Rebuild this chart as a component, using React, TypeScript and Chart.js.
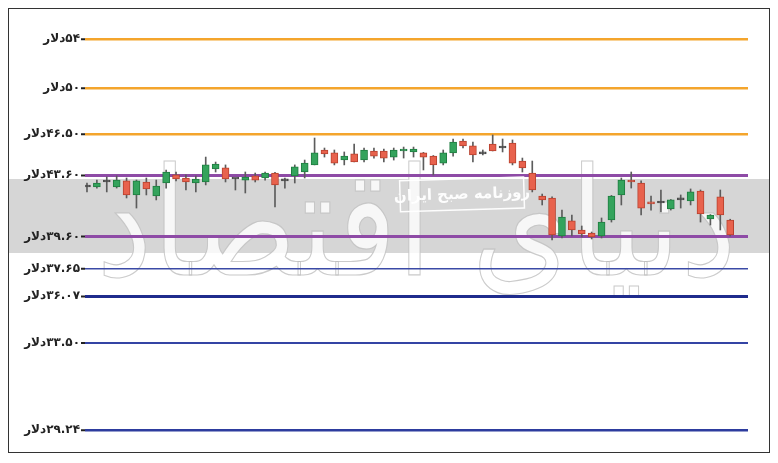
import React, { useEffect, useRef } from 'react';
import { Chart, registerables } from 'chart.js';

Chart.register(...registerables);

// Horizontal price levels (dollars) and their labels
const levels = [54, 50, 46.5, 43.6, 39.6, 37.65, 36.07, 33.5, 29.24];
const levelLabels = [
  '۵۴دلار',
  '۵۰دلار',
  '۴۶.۵۰دلار',
  '۴۳.۶۰دلار',
  '۳۹.۶۰دلار',
  '۳۷.۶۵دلار',
  '۳۶.۰۷دلار',
  '۳۳.۵۰دلار',
  '۲۹.۲۴دلار',
];
const levelColors = ['#f4a52c', '#f4a52c', '#f4a52c', '#8e4ba6', '#8e4ba6', '#3b4aa6', '#1f2b8c', '#3444a4', '#2d3c9e'];
const levelWidths = [2.5, 2.5, 2.5, 3, 3, 1.5, 3, 2, 2.5];

// Candles (daily OHLC)
const opens = [42.81, 42.81, 43.15, 42.81, 43.22, 42.28, 43.15, 42.21, 43.08, 43.63, 43.42, 43.08, 43.15, 44.04, 44.11, 43.35, 43.28, 43.56, 43.42, 43.76, 43.22, 43.56, 43.83, 44.32, 45.37, 45.16, 44.66, 45.09, 44.66, 45.3, 45.3, 44.87, 45.3, 45.23, 45.16, 44.94, 44.45, 45.16, 46.01, 45.66, 45.09, 45.8, 45.51, 45.87, 44.59, 43.76, 42.21, 42.08, 39.64, 40.59, 40.02, 39.83, 39.64, 40.65, 42.28, 43.28, 43.08, 41.82, 41.75, 41.36, 41.95, 41.88, 42.54, 40.72, 42.15, 40.65];
const closes = [42.81, 43.08, 43.15, 43.28, 42.28, 43.22, 42.68, 42.88, 43.83, 43.35, 43.15, 43.35, 44.32, 44.38, 43.35, 43.35, 43.49, 43.28, 43.76, 42.95, 43.22, 44.18, 44.45, 45.16, 45.09, 44.45, 44.94, 44.52, 45.37, 44.94, 44.8, 45.37, 45.44, 45.44, 44.87, 44.32, 45.16, 45.94, 45.66, 45.02, 45.09, 45.3, 45.51, 44.45, 44.11, 42.61, 41.95, 39.71, 40.84, 40.02, 39.77, 39.58, 40.52, 42.21, 43.28, 43.15, 41.42, 41.69, 41.75, 41.95, 41.95, 42.48, 41.04, 40.97, 40.97, 39.71];
const highs = [43.08, 43.28, 43.49, 43.56, 43.42, 43.28, 43.42, 43.28, 43.97, 43.83, 43.63, 43.56, 44.87, 44.52, 44.32, 43.4, 43.83, 43.76, 43.83, 43.8, 43.42, 44.32, 44.66, 46.23, 45.51, 45.37, 45.23, 45.8, 45.51, 45.51, 45.44, 45.51, 45.58, 45.58, 45.2, 44.98, 45.37, 46.16, 46.16, 45.94, 45.37, 46.45, 46.16, 46.09, 44.8, 44.59, 42.34, 42.15, 41.29, 40.97, 40.27, 39.89, 40.78, 42.25, 43.42, 43.83, 43.22, 42.21, 42.61, 41.98, 42.28, 42.68, 42.61, 41.0, 42.61, 40.7];
const lows = [42.48, 42.74, 42.48, 42.74, 42.08, 41.42, 42.28, 41.95, 42.74, 43.22, 42.61, 42.48, 42.95, 43.83, 43.15, 42.61, 42.41, 43.15, 43.28, 41.49, 42.74, 43.08, 43.42, 44.32, 44.87, 44.32, 44.32, 44.52, 44.52, 44.8, 44.52, 44.66, 44.8, 44.87, 43.97, 43.63, 44.32, 44.94, 45.51, 44.52, 45.02, 45.3, 45.23, 44.32, 43.83, 42.48, 41.62, 39.4, 39.52, 39.64, 39.58, 39.46, 39.52, 40.52, 41.62, 42.74, 40.97, 41.29, 41.17, 41.29, 41.42, 41.62, 40.52, 40.33, 40.02, 39.64];

const watermarkTitle = 'دنیای اقتصاد';
const watermarkBox = 'روزنامه صبح ایران';

const UP = '#34a35c';
const UP_BORDER = '#1f7d40';
const DOWN = '#e8624d';
const DOWN_BORDER = '#b8422f';
const DOJI = '#4a4a4a';

export default function App() {
  const ref = useRef<HTMLCanvasElement | null>(null);

  useEffect(() => {
    const canvas = ref.current;
    if (!canvas) return;

    const bodyColor = opens.map((o, i) => (closes[i] > o ? UP : closes[i] < o ? DOWN : DOJI));
    const borderColor = opens.map((o, i) => (closes[i] > o ? UP_BORDER : closes[i] < o ? DOWN_BORDER : DOJI));

    const watermark = {
      id: 'watermark',
      beforeDraw(chart: any) {
        const { ctx, width } = chart;
        const y = chart.scales.y;
        ctx.save();
        ctx.direction = 'rtl';
        // grey band
        const top = y.getPixelForValue(43.35);
        const bottom = y.getPixelForValue(38.6);
        ctx.fillStyle = '#d6d6d6';
        ctx.fillRect(0, top, width, bottom - top);
        // big logo text
        ctx.font = '150px "DejaVu Sans"';
        ctx.textAlign = 'center';
        ctx.textBaseline = 'alphabetic';
        ctx.lineWidth = 1.2;
        ctx.strokeStyle = 'rgba(190,190,190,0.8)';
        ctx.fillStyle = 'rgba(255,255,255,0.8)';
        const cx = (chart.chartArea.left + chart.chartArea.right) / 2;
        const by = y.getPixelForValue(37.3);
        ctx.fillText(watermarkTitle, cx, by, 640);
        ctx.strokeText(watermarkTitle, cx, by, 640);
        ctx.restore();
      },
      beforeDatasetsDraw(chart: any) {
        const { ctx } = chart;
        const x = chart.scales.x;
        const y = chart.scales.y;
        ctx.save();
        ctx.direction = 'rtl';
        const cx = x.getPixelForValue(37.9);
        const cy = y.getPixelForValue(42.35);
        ctx.translate(cx, cy);
        ctx.rotate(-0.03);
        ctx.strokeStyle = 'rgba(255,255,255,0.95)';
        ctx.lineWidth = 1.5;
        ctx.strokeRect(-62, -15, 124, 31);
        ctx.fillStyle = 'rgba(255,255,255,0.95)';
        ctx.font = 'bold 15px "DejaVu Sans"';
        ctx.textAlign = 'center';
        ctx.textBaseline = 'middle';
        ctx.fillText(watermarkBox, 0, 1);
        ctx.restore();
      },
    };

    const chart = new Chart(canvas, {
      type: 'bar',
      data: {
        datasets: [
          {
            label: 'body',
            data: opens.map((o, i) => ({ x: i, y: [o, closes[i]] })) as any,
            backgroundColor: bodyColor,
            borderColor: borderColor,
            borderWidth: 1,
            borderSkipped: false,
            barThickness: 7,
            minBarLength: 2,
            grouped: false,
            order: 0,
          } as any,
          {
            label: 'wick',
            data: lows.map((l, i) => ({ x: i, y: [l, highs[i]] })) as any,
            backgroundColor: '#5c5c5c',
            borderWidth: 0,
            barThickness: 1,
            grouped: false,
            order: 1,
          } as any,
        ],
      },
      options: {
        animation: false,
        responsive: false,
        maintainAspectRatio: false,
        layout: { padding: { left: 0, right: 21, top: 6, bottom: 7 } },
        plugins: { legend: { display: false }, tooltip: { enabled: false } },
        scales: {
          x: {
            type: 'linear',
            min: -0.2,
            max: 66.8,
            display: false,
            offset: false,
          },
          y: {
            type: 'logarithmic',
            min: 28.56,
            max: 56.072,
            afterBuildTicks(scale: any) {
              scale.ticks = levels.map((v) => ({ value: v }));
            },
            afterFit(scale: any) {
              scale.width = 76;
              scale.paddingTop = 0;
              scale.paddingBottom = 0;
            },
            border: { display: false },
            grid: {
              drawOnChartArea: true,
              drawTicks: true,
              tickLength: 4,
              tickWidth: 2,
              tickColor: '#222',
              color: (ctx: any) => {
                const i = levels.indexOf(ctx.tick ? ctx.tick.value : NaN);
                return i >= 0 ? levelColors[i] : 'rgba(0,0,0,0)';
              },
              lineWidth: (ctx: any) => {
                const i = levels.indexOf(ctx.tick ? ctx.tick.value : NaN);
                return i >= 0 ? levelWidths[i] : 0;
              },
            },
            ticks: {
              autoSkip: false,
              padding: 1,
              color: '#222',
              font: { family: '"DejaVu Sans"', size: 12, weight: 'bold' },
              callback: (value: any) => {
                const i = levels.indexOf(Number(value));
                return i >= 0 ? levelLabels[i] : '';
              },
            },
          },
        },
      },
      plugins: [watermark],
    } as any);

    return () => chart.destroy();
  }, []);

  return (
    <div style={{ width: 760, height: 443, border: '1px solid #333', background: '#fff' }}>
      <canvas ref={ref} width={760} height={443} dir="rtl" style={{ display: 'block', width: 760, height: 443 }} />
    </div>
  );
}
